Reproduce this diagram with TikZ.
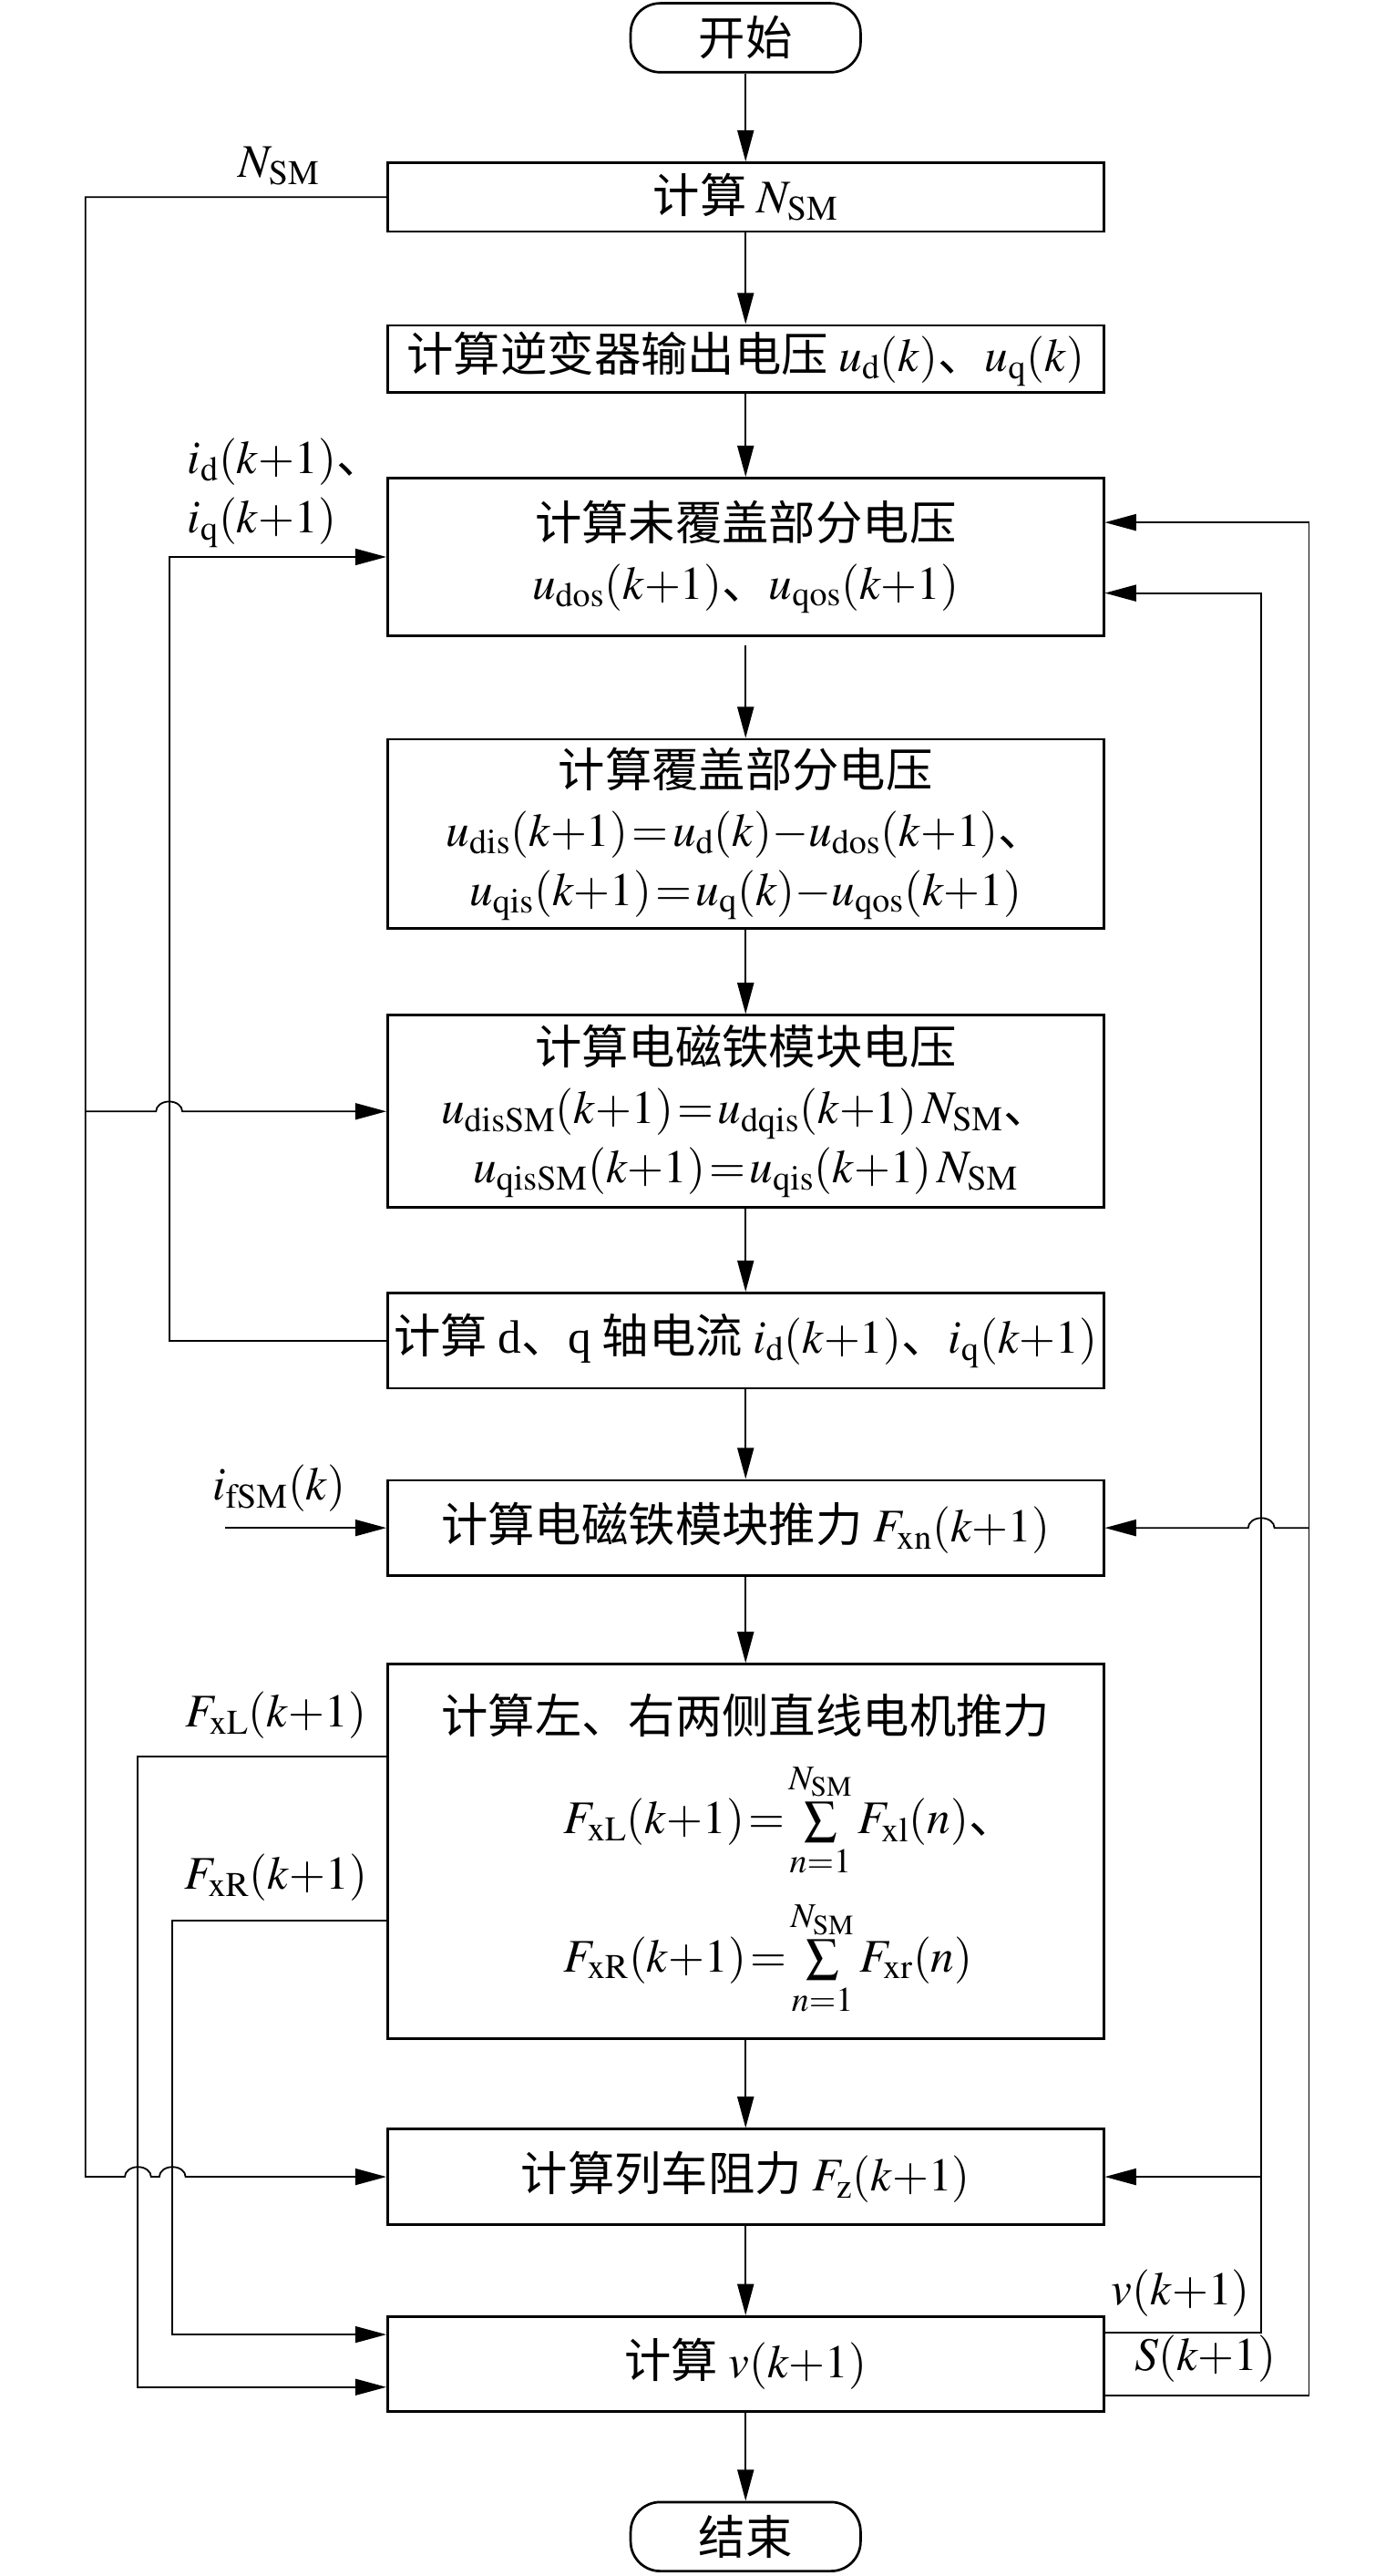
\documentclass[tikz,border=0pt]{standalone}
\usepackage{mathptmx}
\usepackage{fontspec}
\setmainfont{Liberation Serif}
\newfontfamily\cjk{Noto Sans CJK SC}
\usetikzlibrary{arrows.meta,positioning}

\newcommand\boxfont{\fontsize{28.5}{36}\selectfont\cjk\medmuskip=0mu\thickmuskip=1.5mu}
\tikzset{
  box/.style={draw,line width=1.5pt,minimum width=436pt,inner sep=0pt,align=center,font=\boxfont},
  term/.style={draw,line width=1.5pt,rounded corners=18pt,minimum width=140pt,minimum height=42pt,inner sep=0pt,font=\boxfont},
  txt/.style={inner sep=0pt,font=\boxfont},
  lab/.style={inner sep=0pt,font=\boxfont},
  line/.style={line width=1pt},
  >={Triangle[length=19pt,width=10pt]}
}

\begin{document}
\begin{tikzpicture}[x=1pt,y=1pt]
  \useasboundingbox (0,0) rectangle (850,-1568);
  % main column
  \node[term] (st) at (454,-23) {开始};
  \node[box,minimum height=42pt] (b1) at (454,-120) {计算 $N_{\mathrm{SM}}$};
  \node[box,minimum height=41pt] (b2) at (454,-218.5) {计算逆变器输出电压 $u_{\mathrm{d}}(k)$、$u_{\mathrm{q}}(k)$};
  \node[box,minimum height=96pt] (b3) at (454,-339) {计算未覆盖部分电压\\$u_{\mathrm{dos}}(k+1)$、$u_{\mathrm{qos}}(k+1)$};
  \node[box,minimum height=115pt] (b4) at (454,-507.5) {计算覆盖部分电压\\$u_{\mathrm{dis}}(k+1)=u_{\mathrm{d}}(k)-u_{\mathrm{dos}}(k+1)$、\\$u_{\mathrm{qis}}(k+1)=u_{\mathrm{q}}(k)-u_{\mathrm{qos}}(k+1)$};
  \node[box,minimum height=117pt] (b5) at (454,-676.5) {计算电磁铁模块电压\\$u_{\mathrm{disSM}}(k+1)=u_{\mathrm{dqis}}(k+1)\,N_{\mathrm{SM}}$、\\$u_{\mathrm{qisSM}}(k+1)=u_{\mathrm{qis}}(k+1)\,N_{\mathrm{SM}}$};
  \node[box,minimum height=58pt] (b6) at (454,-816) {计算 \textrm{d}、\textrm{q} 轴电流 $i_{\mathrm{d}}(k+1)$、$i_{\mathrm{q}}(k+1)$};
  \node[box,minimum height=58pt] (b7) at (454,-930) {计算电磁铁模块推力 $F_{\mathrm{xn}}(k+1)$};
  \node[box,minimum height=228pt] (b8) at (454,-1127) {};
  \node[txt] (b8t) at (454,-1044) {计算左、右两侧直线电机推力};
  \node[txt,anchor=west] (b8a) at (343,-1108) {$F_{\mathrm{xL}}(k+1)=\sum\limits_{n=1}^{N_{\mathrm{SM}}}F_{\mathrm{xl}}(n)$、};
  \node[txt,anchor=west] (b8b) at (343,-1192) {$F_{\mathrm{xR}}(k+1)=\sum\limits_{n=1}^{N_{\mathrm{SM}}}F_{\mathrm{xr}}(n)$};
  \node[box,minimum height=58pt] (b9) at (454,-1325) {计算列车阻力 $F_{\mathrm{z}}(k+1)$};
  \node[box,minimum height=58pt] (b10) at (454,-1439) {计算 $v(k+1)$};
  \node[term] (en) at (454,-1544) {结束};

  \foreach \a/\b in {st/b1,b1/b2,b2/b3,b4/b5,b5/b6,b6/b7,b7/b8,b8/b9,b9/b10,b10/en}
    \draw[line,->] (\a.south) -- (\a.south |- \b.north);
  \draw[line,->,shorten <=5pt] (b3.south) -- (b4.north);

  % side buses
  \coordinate (nbus) at (52,0);
  \coordinate (ibus) at (103,0);
  \coordinate (flbus) at (84,0);
  \coordinate (frbus) at (105,0);
  \coordinate (vbus) at (768,0);
  \coordinate (sbus) at (797,0);

  % left side
  \draw[line,->] (b1.west) -- (nbus |- b1.west) -- (nbus |- b9.west)
    -- ([xshift=-8pt]flbus |- b9.west) arc[start angle=180,end angle=0,x radius=8pt,y radius=6pt]
    -- ([xshift=-8pt]frbus |- b9.west) arc[start angle=180,end angle=0,x radius=8pt,y radius=6pt]
    -- (b9.west);
  \draw[line,->] (nbus |- b5.west) -- ([xshift=-8pt]ibus |- b5.west)
    arc[start angle=180,end angle=0,x radius=8pt,y radius=6pt] -- (b5.west);
  \draw[line,->] (b6.west) -- (ibus |- b6.west) -- (ibus |- b3.west) -- (b3.west);
  \coordinate (fsm) at (137,-930);
  \draw[line,->] (fsm) -- (b7.west);
  \coordinate (b8l) at ([yshift=-57pt]b8.north west);
  \coordinate (b8r) at ([yshift=-157pt]b8.north west);
  \coordinate (b10l) at ([yshift=-14pt]b10.west);
  \coordinate (b10u) at ([yshift=18pt]b10.west);
  \draw[line,->] (b8l) -- (flbus |- b8l) -- (flbus |- b10l) -- (b10l);
  \draw[line,->] (b8r) -- (frbus |- b8r) -- (frbus |- b10u) -- (b10u);

  % right side
  \coordinate (b10v) at ([yshift=19pt]b10.east);
  \coordinate (b10s) at ([yshift=-19pt]b10.east);
  \coordinate (b3v) at ([yshift=-22pt]b3.east);
  \coordinate (b3s) at ([yshift=21pt]b3.east);
  \draw[line,->] (b10v) -- (vbus |- b10v) -- (vbus |- b3v) -- (b3v);
  \draw[line,->] (vbus |- b9.east) -- (b9.east);
  \draw[line,->] (b10s) -- (sbus |- b10s) -- (sbus |- b3s) -- (b3s);
  \draw[line,->] (sbus |- b7.east) -- ([xshift=8pt]vbus |- b7.east)
    arc[start angle=0,end angle=180,x radius=8pt,y radius=6pt] -- (b7.east);

  % labels
  \node[lab] (nsm) at (170,-101) {$N_{\mathrm{SM}}$};
  \node[lab,anchor=west,align=left] (idq) at (114,-300) {$i_{\mathrm{d}}(k+1)$、\\$i_{\mathrm{q}}(k+1)$};
  \node[lab] (ifs) at (170,-906) {$i_{\mathrm{fSM}}(k)$};
  \node[lab] (fxl) at (168,-1044) {$F_{\mathrm{xL}}(k+1)$};
  \node[lab] (fxr) at (168,-1143) {$F_{\mathrm{xR}}(k+1)$};
  \node[lab] (vk) at (719,-1396) {$v(k+1)$};
  \node[lab] (sk) at (734,-1436) {$S(k+1)$};
\end{tikzpicture}
\end{document}
